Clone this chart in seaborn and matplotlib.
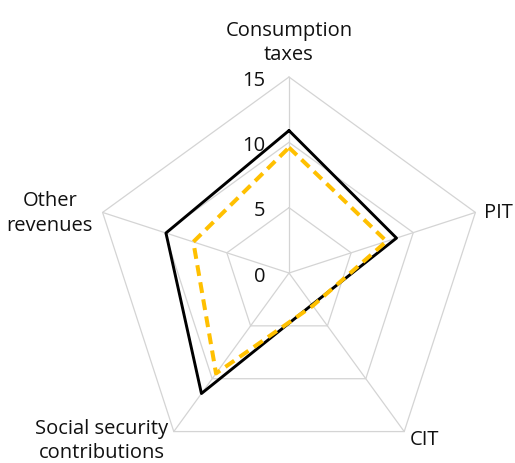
import numpy as np
import pandas as pd
import matplotlib
matplotlib.use("Agg")
import matplotlib.pyplot as plt
import seaborn as sns

categories = ["Consumption\ntaxes", "PIT", "CIT", "Social security\ncontributions", "Other\nrevenues"]
series_a = [10.9, 8.65, 3.0, 11.4, 9.9]     # black solid
series_b = [9.6, 7.85, 3.1, 9.5, 7.7]       # orange dashed
ring_levels = [0, 5, 10, 15]
ring_labels = ["0", "5", "10", "15"]

sns.set_theme(style="white")
plt.rcParams["font.family"] = ["Open Sans", "DejaVu Sans"]

n = len(categories)
theta = np.linspace(0, 2 * np.pi, n, endpoint=False)
theta_closed = np.append(theta, 2 * np.pi)

fig = plt.figure(figsize=(5.15, 4.64), dpi=100)
ax = fig.add_axes([93 / 515, -6 / 464, 392 / 515, 392 / 464], projection="polar")
ax.set_theta_offset(np.pi / 2)
ax.set_theta_direction(-1)
ax.set_ylim(0, 15)
ax.grid(False)
ax.spines["polar"].set_visible(False)
ax.set_xticks([])
ax.set_yticks([])
ax.patch.set_alpha(0)

grid_color = "#d4d4d4"
# pentagon rings
for lvl in ring_levels[1:]:
    ax.plot(theta_closed, [lvl] * (n + 1), color=grid_color, lw=0.9, clip_on=False, zorder=1)
# spokes
for t in theta:
    ax.plot([t, t], [0, 15], color=grid_color, lw=0.9, clip_on=False, zorder=1)

def closed(vals):
    return pd.DataFrame({"theta": theta_closed, "value": list(vals) + [vals[0]]})

sns.lineplot(data=closed(series_a), x="theta", y="value", sort=False, estimator=None,
             color="black", lw=2.1, ax=ax, zorder=3)
sns.lineplot(data=closed(series_b), x="theta", y="value", sort=False, estimator=None,
             color="#FFC000", lw=2.9, ax=ax, zorder=4)
ax.lines[-1].set_linestyle((0, (2.7, 1.6)))
ax.set_xlabel("")
ax.set_ylabel("")

txt = "#111111"
fs = 14.5

# radial value labels along the top spoke
for lvl, lab in zip(ring_levels, ring_labels):
    ax.annotate(lab, xy=(0, lvl), xytext=(-17, -2), textcoords="offset points",
                ha="right", va="center", fontsize=fs, color=txt)

# category labels
ax.annotate(categories[0], xy=(theta[0], 15), xytext=(0, 9), textcoords="offset points",
            ha="center", va="bottom", fontsize=fs, color=txt, linespacing=1.3)
ax.annotate(categories[1], xy=(theta[1], 15), xytext=(6, 0), textcoords="offset points",
            ha="left", va="center", fontsize=fs, color=txt)
ax.annotate(categories[2], xy=(theta[2], 15), xytext=(4, -5), textcoords="offset points",
            ha="left", va="center", fontsize=fs, color=txt)
ax.annotate(categories[3], xy=(theta[3], 15), xytext=(-4, -6), textcoords="offset points",
            ha="right", va="center", fontsize=fs, color=txt, multialignment="center",
            linespacing=1.3)
ax.annotate(categories[4], xy=(theta[4], 15), xytext=(-7, 0), textcoords="offset points",
            ha="right", va="center", fontsize=fs, color=txt, multialignment="center",
            linespacing=1.3)

fig.savefig("out.png", dpi=100)
